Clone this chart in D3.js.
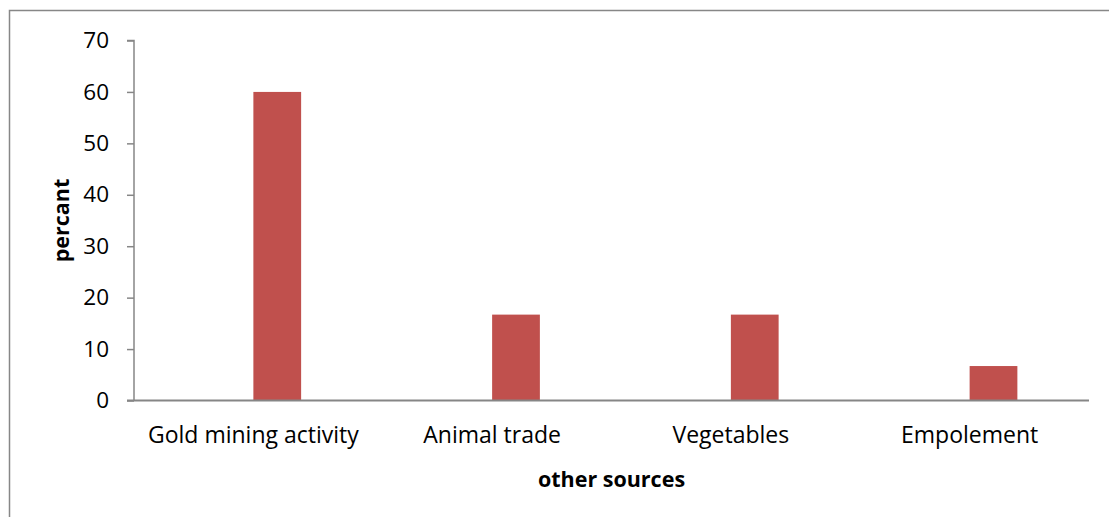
<!DOCTYPE html>
<html>
<head>
<meta charset="utf-8">
<script src="https://cdn.jsdelivr.net/npm/d3@7"></script>
<style>
  html, body { margin: 0; padding: 0; background: #fff; }
  svg { display: block; }
  text { font-family: "Open Sans", sans-serif; fill: #000; }
</style>
</head>
<body>
<svg id="chart" width="1109" height="517"></svg>
<script>
// Other income sources (percent of respondents)
const categories = ["Gold mining activity", "Animal trade", "Vegetables", "Empolement"];
const percentValues = [60, 16.7, 16.7, 6.7];
const yTicks = [0, 10, 20, 30, 40, 50, 60, 70];
const xTitle = "other sources";
const yTitle = "percant";

const svg = d3.select("#chart");
const W = 1109, H = 517;
const margin = { left: 134, top: 40.5 };
const plotRight = 1089;
const plotBottom = 400.5;
const FONT = "'Open Sans', sans-serif";

// outer frame
svg.append("rect")
  .attr("x", 9.5).attr("y", 10.5)
  .attr("width", W + 20).attr("height", H + 20)
  .attr("fill", "none").attr("stroke", "#878787").attr("stroke-width", 1.5);

const x = d3.scaleBand()
  .domain(categories)
  .range([margin.left, plotRight])
  .padding(0);

const y = d3.scaleLinear()
  .domain([0, 70])
  .range([plotBottom, margin.top]);

// bars: drawn in the second slot of each category cluster
const barW = x.bandwidth() * 0.2;
svg.append("g").selectAll("rect")
  .data(categories.map((c, i) => ({ c, v: percentValues[i] })))
  .join("rect")
  .attr("x", d => x(d.c) + x.bandwidth() / 2)
  .attr("y", d => y(d.v))
  .attr("width", barW)
  .attr("height", d => y(0) - y(d.v))
  .attr("fill", "#c0504d");

// y axis
const yAxis = d3.axisLeft(y).tickValues(yTicks).tickSize(7).tickPadding(18).tickFormat(d3.format("d"));
const gy = svg.append("g").attr("transform", `translate(${margin.left},0)`).call(yAxis);
gy.select(".domain").attr("stroke", "#868686").attr("stroke-width", 1.5).attr("d", `M-7,${y(70)}H0V${y(0)}`);
gy.selectAll(".tick line").attr("stroke", "#868686").attr("stroke-width", 1.5);
gy.selectAll(".tick text").attr("font-size", 22.5).attr("font-family", FONT).attr("fill", "#000");

// x axis baseline
svg.append("line")
  .attr("x1", margin.left - 7).attr("x2", plotRight)
  .attr("y1", y(0)).attr("y2", y(0))
  .attr("stroke", "#868686").attr("stroke-width", 2);

// category labels
svg.append("g").selectAll("text")
  .data(categories)
  .join("text")
  .attr("x", d => x(d) + x.bandwidth() / 2)
  .attr("y", 443)
  .attr("text-anchor", "middle")
  .attr("font-size", 23)
  .text(d => d);

// axis titles
svg.append("text")
  .attr("x", (margin.left + plotRight) / 2)
  .attr("y", 486.5)
  .attr("text-anchor", "middle")
  .attr("font-size", 21.5)
  .attr("font-weight", "bold")
  .text(xTitle);

svg.append("text")
  .attr("transform", `translate(69,${(y(0) + y(70)) / 2}) rotate(-90)`)
  .attr("text-anchor", "middle")
  .attr("font-size", 21.5)
  .attr("font-weight", "bold")
  .text(yTitle);
</script>
</body>
</html>
